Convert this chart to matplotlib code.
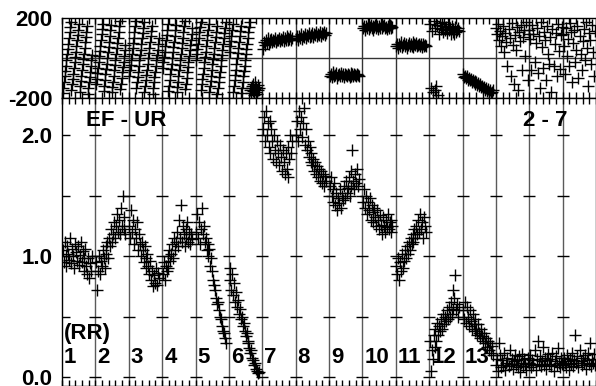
import matplotlib.pyplot as plt
import numpy as np

plt.rcParams['font.family'] = ['Liberation Sans', 'DejaVu Sans']
plt.rcParams['font.weight'] = 'bold'

# closure amplitude EF - UR per scan (RR)
amp_scans = [
    [1.05, 0.95, 1.12, 1.00, 0.92, 1.08, 1.02, 0.97, 1.15, 0.94, 1.06, 1.00, 0.90, 1.10, 1.03, 0.96, 1.08, 0.93, 1.01, 1.12, 0.95, 1.04, 0.98, 0.88, 1.06, 0.92, 0.85, 0.98, 0.82, 0.94, 0.88, 1.00],
    [0.95, 0.72, 0.88, 1.00, 0.85, 0.96, 0.92, 1.05, 0.98, 0.90, 1.08, 1.02, 1.12, 0.98, 1.15, 1.08, 1.22, 1.12, 1.18, 1.28, 1.15, 1.25, 1.35, 1.20, 1.30, 1.18, 1.40, 1.25, 1.50, 1.22, 1.32, 1.18],
    [1.25, 1.15, 1.38, 1.20, 1.30, 1.10, 1.22, 1.15, 1.28, 1.05, 1.18, 1.10, 1.00, 1.12, 1.05, 0.95, 1.08, 0.98, 0.90, 1.02, 0.92, 0.85, 0.96, 0.80, 0.88, 0.75, 0.84, 0.78, 0.90, 0.76, 0.86, 0.82],
    [0.85, 0.95, 0.80, 0.92, 0.88, 1.00, 0.90, 1.05, 0.96, 1.02, 1.10, 0.98, 1.15, 1.05, 1.12, 1.20, 1.08, 1.30, 1.15, 1.42, 1.12, 1.25, 1.18, 1.08, 1.22, 1.15, 1.28, 1.12, 1.20, 1.10, 1.18, 1.14],
    [1.20, 1.35, 1.15, 1.28, 1.10, 1.22, 1.40, 1.18, 1.25, 1.12, 1.15, 1.05, 1.10, 1.00, 1.06, 0.92, 0.98, 0.88, 0.80, 0.76, 0.72, 0.65, 0.60, 0.62, 0.55, 0.50, 0.48, 0.42, 0.38, 0.36, 0.32, 0.28],
    [0.80, 0.90, 0.72, 0.85, 0.68, 0.78, 0.62, 0.70, 0.58, 0.64, 0.52, 0.56, 0.48, 0.50, 0.42, 0.45, 0.38, 0.34, 0.36, 0.28, 0.30, 0.24, 0.20, 0.22, 0.16, 0.14, 0.10, 0.12, 0.07, 0.05, 0.03, 0.04],
    [2.05, 2.15, 1.95, 2.20, 2.00, 2.10, 1.90, 2.12, 1.85, 2.05, 1.95, 1.80, 2.00, 1.88, 1.78, 1.95, 1.85, 1.75, 1.92, 1.82, 1.70, 1.88, 1.78, 1.68, 1.85, 1.72, 1.65, 1.90, 1.80, 2.00, 1.85, 1.95],
    [2.00, 2.12, 1.95, 2.20, 2.05, 2.15, 1.98, 2.10, 2.22, 1.92, 2.05, 1.88, 1.95, 1.82, 1.90, 1.78, 1.85, 1.75, 1.80, 1.70, 1.78, 1.68, 1.74, 1.65, 1.72, 1.62, 1.70, 1.60, 1.68, 1.58, 1.66, 1.62],
    [1.58, 1.65, 1.50, 1.55, 1.45, 1.60, 1.42, 1.52, 1.38, 1.48, 1.44, 1.55, 1.40, 1.50, 1.46, 1.58, 1.48, 1.62, 1.52, 1.56, 1.65, 1.50, 1.70, 1.58, 1.88, 1.62, 1.55, 1.68, 1.60, 1.72, 1.58, 1.64],
    [1.45, 1.55, 1.40, 1.50, 1.35, 1.45, 1.38, 1.48, 1.30, 1.42, 1.36, 1.28, 1.40, 1.32, 1.25, 1.38, 1.30, 1.22, 1.34, 1.26, 1.18, 1.32, 1.25, 1.20, 1.30, 1.24, 1.35, 1.22, 1.28, 1.20, 1.30, 1.25],
    [0.92, 0.85, 0.98, 0.80, 0.95, 0.88, 1.02, 0.90, 0.96, 1.05, 0.98, 1.08, 1.02, 1.12, 1.05, 1.15, 1.10, 1.18, 1.12, 1.22, 1.15, 1.25, 1.18, 1.30, 1.20, 1.35, 1.22, 1.28, 1.15, 1.32, 1.25, 1.20],
    [0.30, 0.05, 0.22, 0.15, 0.35, 0.25, 0.40, 0.30, 0.45, 0.35, 0.42, 0.38, 0.48, 0.40, 0.52, 0.44, 0.50, 0.46, 0.55, 0.48, 0.58, 0.50, 0.62, 0.52, 0.72, 0.56, 0.65, 0.84, 0.55, 0.60, 0.50, 0.58],
    [0.55, 0.48, 0.62, 0.45, 0.58, 0.50, 0.42, 0.55, 0.46, 0.40, 0.52, 0.44, 0.38, 0.48, 0.40, 0.35, 0.44, 0.36, 0.32, 0.40, 0.34, 0.30, 0.36, 0.28, 0.32, 0.25, 0.30, 0.22, 0.28, 0.20, 0.26, 0.18],
    [0.10, 0.15, 0.05, 0.28, 0.18, 0.08, 0.14, 0.10, 0.20, 0.06, 0.12, 0.16, 0.09, 0.22, 0.11, 0.15, 0.07, 0.13, 0.18, 0.10, 0.14, 0.08, 0.17, 0.04, 0.12, 0.19, 0.09, 0.15, 0.11, 0.06, 0.16, 0.12],
    [0.12, 0.18, 0.08, 0.14, 0.10, 0.22, 0.06, 0.15, 0.30, 0.11, 0.17, 0.09, 0.13, 0.25, 0.10, 0.16, 0.07, 0.14, 0.19, 0.11, 0.15, 0.09, 0.20, 0.05, 0.13, 0.17, 0.10, 0.24, 0.12, 0.08, 0.16, 0.11],
    [0.10, 0.16, 0.12, 0.08, 0.18, 0.13, 0.06, 0.15, 0.11, 0.20, 0.09, 0.14, 0.35, 0.12, 0.17, 0.08, 0.22, 0.13, 0.10, 0.16, 0.12, 0.18, 0.07, 0.14, 0.20, 0.11, 0.28, 0.09, 0.15, 0.12, 0.19, 0.10],
]

# closure phase (deg) per scan
phase_scans = [
    [-175, -148, -120, -92, -65, -38, -10, 18, 45, 72, 100, 128, 155, 180,
     -160, -132, -105, -78, -50, -22, 5, 32, 60, 88, 115, 142, 170,
     -170, -142, -115, -88, -60, -32, -5, 22, 50, 78, 105, 132, 160,
     -178, -150, -122, -95, -68, -40, -12, 15],
    [-130, -105, -75, -50, -20, 8, 35, 62, 92, 118, 145, 172,
     -165, -138, -110, -82, -55, -28, 0, 28, 55, 82, 110, 138, 165,
     -172, -145, -118, -90, -62, -35, -8, 20, 48, 75, 102, 130, 158, 185,
     -155, -128, -100, -72, -45, -18, 10, 38, 65],
    [-90, -62, -35, -8, 20, 48, 75, 102, 130, 158, 185,
     -150, -122, -95, -68, -40, -12, 15, 42, 70, 98, 125, 152, 178,
     -168, -140, -112, -85, -58, -30, -2, 25, 52, 80, 108, 135, 162,
     -178, -150, -122, -95, -68, -40, -12, 15, 42, 70, 98],
    [-50, -22, 5, 32, 60, 88, 115, 142, 170,
     -165, -138, -110, -82, -55, -28, 0, 28, 55, 82, 110, 138, 165,
     -172, -145, -118, -90, -62, -35, -8, 20, 48, 75, 102, 130, 158, 185,
     -155, -128, -100, -72, -45, -18, 10, 38, 65, 92, 120, 148],
    [-10, 18, 45, 72, 100, 128, 155, 182,
     -160, -132, -105, -78, -50, -22, 5, 32, 60, 88, 115, 142, 170,
     -170, -142, -115, -88, -60, -32, -5, 22, 50, 78, 105, 132, 160,
     -178, -150, -122, -95, -68, -40, -12, 15, 42, 70, 98, 125, 152, 180],
    [30, 58, 85, 112, 140, 168,
     -168, -140, -112, -85, -58, -30, -2, 25, 52, 80, 108, 135, 162,
     -175, -148, -120, -92, -65, -38, -10, 18, 45, 72, 100, 128, 155, 182,
     -160, -150, -175, -140, -165, -130, -185, -155, -120, -170, -145, -180, -160, -135, -150],
    [45, 80, 65, 92, 75, 100, 70, 88, 82, 95, 78, 90, 85, 98, 80, 92, 88, 102, 84, 95, 90, 105, 86, 98, 92, 108, 88, 100, 95, 110, 92, 102],
    [95, 108, 90, 112, 100, 118, 96, 110, 104, 120, 100, 114, 108, 124, 104, 116, 112, 126, 106, 118, 114, 128, 110, 122, 116, 130, 112, 124, 118, 132, 115, 125],
    [-88, -78, -95, -82, -72, -92, -86, -76, -98, -84, -80, -90, -74, -88, -82, -96, -78, -86, -92, -80, -84, -94, -76, -88, -82, -90, -78, -86, -92, -80, -85, -88],
    [148, 162, 142, 158, 150, 168, 145, 156, 164, 148, 160, 140, 155, 166, 150, 158, 146, 162, 152, 170, 148, 158, 164, 150, 156, 144, 160, 152, 166, 148, 158, 154],
    [58, 72, 52, 68, 62, 78, 55, 66, 74, 60, 70, 50, 64, 76, 58, 68, 62, 80, 56, 70, 64, 74, 58, 66, 72, 60, 68, 54, 70, 62, 66, 60],
    [170, -150, 135, -170, 185, -160, 150, -140, 165, -185, 120, 175, 145, 160, 130, 180, 140, 155, 125, 168, 138, 150, 118, 160, 132, 145, 122, 155, 128, 140, 150, 135],
    [-80, -95, -88, -102, -92, -108, -98, -112, -104, -118, -110, -122, -115, -128, -120, -135, -126, -140, -132, -146, -138, -152, -145, -158, -150, -165, -156, -170, -162, -175, -168, -160],
    [150, 120, 170, 90, 135, 60, 110, 160, 30, 125, 80, -40, 145, 100, -90, 175, 65, -130, 115, 40, 155, -160, 130, 85, 165, -60, 105, 140, 10, 180, -110, 120],
    [140, 95, -60, 165, 120, -20, 75, 150, -75, 110, -150, 180, 55, -50, 130, 90, -110, 160, 20, -30, 105, -170, 145, -40, 70, 125, -90, 170, 35, -55, 115, 155],
    [120, 60, -80, 150, 10, 95, -40, 175, 130, -120, 75, 140, -20, 40, 160, -100, 110, 20, -60, 85, 145, -10, 180, 50, -140, 125, 90, -30, 165, 30, -90, 135],
]

scan_labels = [str(i) for i in range(1, 14)]
n_slots = 16


def scan_times(k, n):
    # scans 14-16 fill their slot, the others stop a little short
    if k < 13:
        return k + np.linspace(0.02, 0.90, n)
    return k + np.linspace(0.0, 0.98, n)


W, H = 596, 386
fig = plt.figure(figsize=(W / 100, H / 100), dpi=100)
ax_ph = fig.add_axes([62 / W, (H - 98) / H, 534 / W, 80 / H])
ax_amp = fig.add_axes([62 / W, 0, 534 / W, 288 / H])

mk = dict(ls='none', marker='+', ms=8.5, mew=1.0, color='k', zorder=3)
for k, (amp, ph) in enumerate(zip(amp_scans, phase_scans)):
    ax_amp.plot(scan_times(k, len(amp)), amp, **mk)
    ax_ph.plot(scan_times(k, len(ph)), ph, **mk)

# scan boundaries
for i in range(1, n_slots):
    ax_amp.axvline(i, color='#5a5a5a', lw=1.0, zorder=1)
    ax_ph.axvline(i, color='#333333', lw=1.0, zorder=1)
ax_ph.axhline(0, color='#333333', lw=1.0, zorder=1)

gx, gy = np.meshgrid(np.arange(1, n_slots), [0, 0.5, 1.0, 1.5, 2.0])
ax_amp.plot(gx.ravel(), gy.ravel(), ls='none', marker='_', ms=9, mew=1.0, color='k', zorder=2)

ax_amp.set_xlim(0, n_slots)
ax_amp.set_ylim(-0.074, 2.306)
ax_ph.set_xlim(0, n_slots)
ax_ph.set_ylim(-200, 200)

for ax in (ax_amp, ax_ph):
    ax.set_xticks(np.arange(0, n_slots + 1))
    ax.set_xticks(np.arange(0, n_slots, 0.2), minor=True)
    ax.tick_params(axis='x', which='both', direction='in', top=True, bottom=True,
                   labelbottom=False, length=4, width=1)
    for s in ax.spines.values():
        s.set_linewidth(1.0)

fs = 16
ax_amp.set_yticks([0, 1, 2])
ax_amp.set_yticklabels(['0.0', '1.0', '2.0'])
ax_amp.set_yticks([0.5, 1.5], minor=True)
ax_amp.tick_params(axis='y', which='both', direction='in', length=6, width=1,
                   labelsize=fs, pad=7)

ax_ph.set_yticks([-200, 200])
ax_ph.set_yticklabels(['-200', '200'])
ax_ph.tick_params(axis='y', direction='in', length=0, labelsize=fs, pad=7)

ax_amp.text(0.72, 2.12, 'EF - UR', fontsize=fs, fontweight='bold', va='center', ha='left', zorder=2)
ax_amp.text(13.8, 2.12, '2 - 7', fontsize=fs, fontweight='bold', va='center', ha='left', zorder=2)
ax_amp.text(0.06, 0.36, '(RR)', fontsize=fs, fontweight='bold', va='center', ha='left', zorder=2)
for i, lab in enumerate(scan_labels):
    ax_amp.text(i + 0.06, 0.165, lab, fontsize=fs, fontweight='bold', va='center', ha='left', zorder=2)

fig.savefig('out.png', dpi=100)
